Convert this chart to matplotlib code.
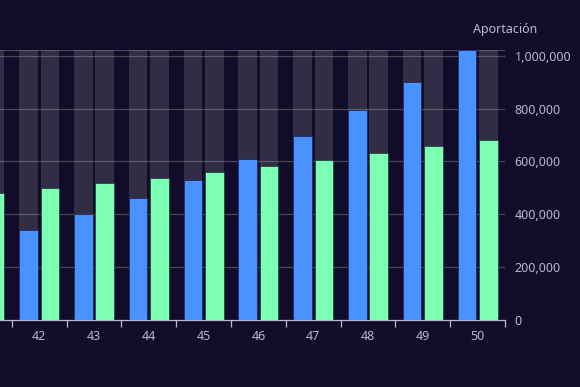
import numpy as np
import matplotlib
matplotlib.use("Agg")
import matplotlib.pyplot as plt

# datos
edades = ["41", "42", "43", "44", "45", "46", "47", "48", "49", "50"]
saldo = [300000, 342000, 400000, 461000, 530000, 609000, 698000, 793000, 901000, 1022000]
aportacion = [481000, 500000, 520000, 539000, 561000, 583000, 606000, 631000, 657000, 682000]
yticks = [0, 200000, 400000, 600000, 800000, 1000000]

bg = "#100c2a"
txt = "#b9b8ce"
grid = "#484753"

plt.rcParams["font.family"] = ["Noto Sans", "DejaVu Sans"]

fig = plt.figure(figsize=(5.8, 3.87), dpi=100, facecolor=bg)
ax = fig.add_axes([0, 67 / 387, 505 / 580, 270 / 387], facecolor=bg)

x = np.arange(len(edades))
ymax = max(saldo)
w = 0.34
off = 0.195

# barras de fondo
ax.bar(x - off, [ymax] * len(x), width=w, color=(180/255, 180/255, 180/255, 0.2), zorder=1)
ax.bar(x + off, [ymax] * len(x), width=w, color=(180/255, 180/255, 180/255, 0.2), zorder=1)

ax.bar(x - off, saldo, width=w, color="#4992ff", edgecolor="#16306a", linewidth=0.6, zorder=3)
ax.bar(x + off, aportacion, width=w, color="#7cffb2", edgecolor="#1c4a46", linewidth=0.6, zorder=3)

ax.set_yticks(yticks)
ax.set_yticklabels([f"{v:,}" for v in yticks])
ax.yaxis.tick_right()
ax.tick_params(axis="y", length=0, pad=7, labelsize=9, labelcolor=txt)
for v in yticks[1:]:
    ax.axhline(v, color=grid, lw=0.9, zorder=0)
ax.axhline(ymax, color=grid, lw=0.9, zorder=0)

ax.set_xticks(x)
ax.set_xticklabels(edades)
ax.set_xticks(x + 0.5, minor=True)
ax.tick_params(axis="x", which="major", length=0, pad=7, labelsize=9, labelcolor=txt)
ax.tick_params(axis="x", which="minor", length=5, width=0.9, color=txt, direction="out")

# limites despues de los ticks
ax.set_xlim(9.5 - 505 / 54.8, 9.5)
ax.set_ylim(0, ymax)

for s in ["top", "left", "right"]:
    ax.spines[s].set_visible(False)
ax.spines["bottom"].set_color(txt)
ax.spines["bottom"].set_linewidth(0.9)

fig.text(505 / 580, 1 - 29 / 387, "Aportación", color=txt, fontsize=9, ha="center", va="center")

fig.savefig("out.png", dpi=100, facecolor=bg)
